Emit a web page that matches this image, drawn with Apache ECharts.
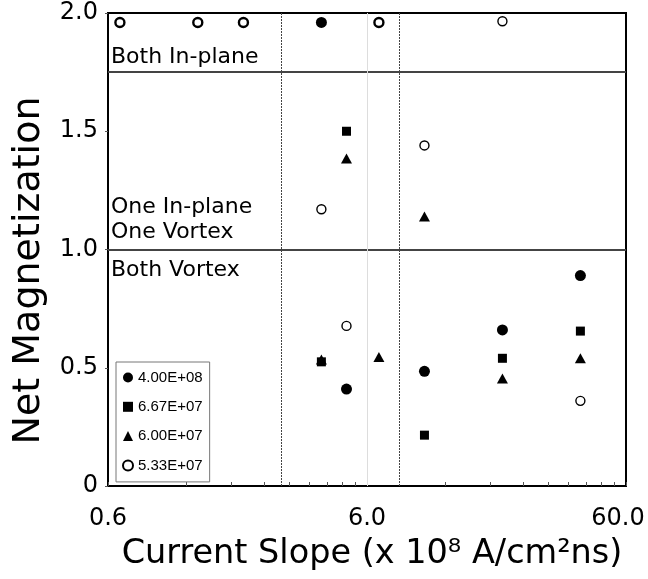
<!DOCTYPE html>
<html><head><meta charset="utf-8">
<script src="https://cdn.jsdelivr.net/npm/echarts@6/dist/echarts.min.js"></script>
<style>html,body{margin:0;padding:0;background:#fff}#c{width:648px;height:579px}</style>
</head><body><div id="c"></div>
<script>
// ---- data ----
const seriesNames = ['4.00E+08', '6.67E+07', '6.00E+07', '5.33E+07'];
const s1x = [4.0, 5.0, 10, 20, 40];
const s1y = [1.96, 0.41, 0.485, 0.66, 0.89];
const s2x = [5.0, 4.0, 10, 20, 40];
const s2y = [1.50, 0.525, 0.215, 0.54, 0.655];
const s3x = [5.0, 10, 4.0, 6.67, 20, 40];
const s3y = [1.385, 1.14, 0.535, 0.545, 0.455, 0.54];
const s4x = [0.667, 1.333, 2.0, 6.67, 20, 4.0, 10, 5.0, 40];
const s4y = [1.96, 1.96, 1.96, 1.96, 1.965, 1.17, 1.44, 0.677, 0.36];
const xTickLabels = [0.6, 6, 60];
const yTickLabels = [0, 0.5, 1.0, 1.5, 2.0];
const regionBounds = [1.0, 1.75];     // horizontal boundaries
const dottedX = [2.8, 8.0];           // vertical dotted lines
const greyX = [6.0];                  // light grey vertical line
const regionNames = ['Both In-plane', 'One In-plane\nOne Vortex', 'Both Vortex'];

function pairs(xs, ys){ return xs.map((x,i)=>[x, ys[i]]); }
const minorTicks = [];
[0.6, 6].forEach(d => { for (let k=1;k<=10;k++) minorTicks.push(+(d*k).toFixed(4)); });

const FONT = 'DejaVu Sans';
const chart = echarts.init(document.getElementById('c'), null, {renderer:'canvas'});
const marker = {color:'#000', opacity:1};
const option = {
  animation:false,
  backgroundColor:'#fff',
  grid:{left:108, right:22, top:13, bottom:93, show:true, borderColor:'#000', borderWidth:2,
        containLabel:false, outerBoundsMode:'none'},
  xAxis:{
    type:'log', logBase:10, min:0.6, max:60,
    name:'Current Slope (x 10\u2078 A/cm\u00B2ns)', nameLocation:'middle', nameGap:51,
    nameTextStyle:{fontFamily:FONT, fontSize:33.5, color:'#000', padding:[0,0,0,10]},
    axisLine:{show:true, lineStyle:{color:'#000', width:2}},
    axisTick:{show:true, inside:true, length:4, customValues:minorTicks, lineStyle:{color:'#555', width:1}},
    axisLabel:{customValues:xTickLabels, fontFamily:FONT, fontSize:24, color:'#000', margin:21,
      formatter:v=> v===0.6 ? '0.6' : (v>=59 ? '{r|' + (+v).toFixed(1) + '}' : (+v).toFixed(1)),
      rich:{r:{fontFamily:FONT, fontSize:24, color:'#000', padding:[0,16,0,0]}}},
    splitLine:{show:false}, minorTick:{show:false}
  },
  yAxis:{
    type:'value', min:0, max:2, interval:0.5,
    name:'Net Magnetization', nameLocation:'middle', nameGap:60, nameRotate:90,
    nameTextStyle:{fontFamily:FONT, fontSize:38, color:'#000', padding:[0,42,0,0]},
    axisLine:{show:true, lineStyle:{color:'#000', width:2}},
    axisTick:{show:true, inside:false, length:3, lineStyle:{color:'#555'}},
    axisLabel:{fontFamily:FONT, fontSize:24, color:'#000', margin:10,
      formatter:v=> v===0 ? '0' : v.toFixed(1)},
    splitLine:{show:false}
  },
  legend:{
    orient:'vertical', left:116, top:362, data:[
      {name:seriesNames[0], icon:'circle'},
      {name:seriesNames[1], icon:'rect'},
      {name:seriesNames[2], icon:'triangle'},
      {name:seriesNames[3], icon:'circle'}],
    itemWidth:10, itemHeight:10, itemGap:14.3, padding:[8,7,9,6],
    borderColor:'#777', borderWidth:1, backgroundColor:'#fff',
    textStyle:{fontFamily:'Liberation Sans Narrow, Liberation Sans', fontSize:15, color:'#000'}
  },
  series:[
    {name:seriesNames[0], type:'scatter', symbol:'circle', symbolSize:11, itemStyle:marker, data:pairs(s1x,s1y), z:5,
     markLine:{silent:true, symbol:'none', label:{show:false}, data:[
       ...regionBounds.map(v=>({yAxis:v, lineStyle:{color:'#444', width:2, type:'solid'}})),
       ...dottedX.map(v=>({xAxis:v, lineStyle:{color:'#444', width:1, type:[2,1]}})),
       ...greyX.map(v=>({xAxis:v, lineStyle:{color:'#ddd', width:1, type:'solid'}}))
     ]}},
    {name:seriesNames[1], type:'scatter', symbol:'rect', symbolSize:9, itemStyle:marker, data:pairs(s2x,s2y), z:5},
    {name:seriesNames[2], type:'scatter', symbol:'triangle', symbolSize:[11,10], itemStyle:marker, data:pairs(s3x,s3y), z:6},
    {name:seriesNames[3], type:'scatter', symbol:'circle', symbolSize:9,
     itemStyle:{color:'#fff', borderColor:'#000', borderWidth:1.4, opacity:1},
     data:pairs(s4x,s4y).map(p=>({value:p, itemStyle: p[1]>1.9 && p[0]<10 ? {borderWidth:2.4} : {}})), z:7}
  ],
  graphic:[
    {type:'text', left:111, top:46, style:{text:regionNames[0], fontFamily:FONT, fontSize:22, fill:'#000'}},
    {type:'text', left:111, top:195, style:{text:regionNames[1], fontFamily:FONT, fontSize:22, fill:'#000', lineHeight:25}},
    {type:'text', left:111, top:259, style:{text:regionNames[2], fontFamily:FONT, fontSize:22, fill:'#000'}}
  ]
};
chart.setOption(option);
</script></body></html>
